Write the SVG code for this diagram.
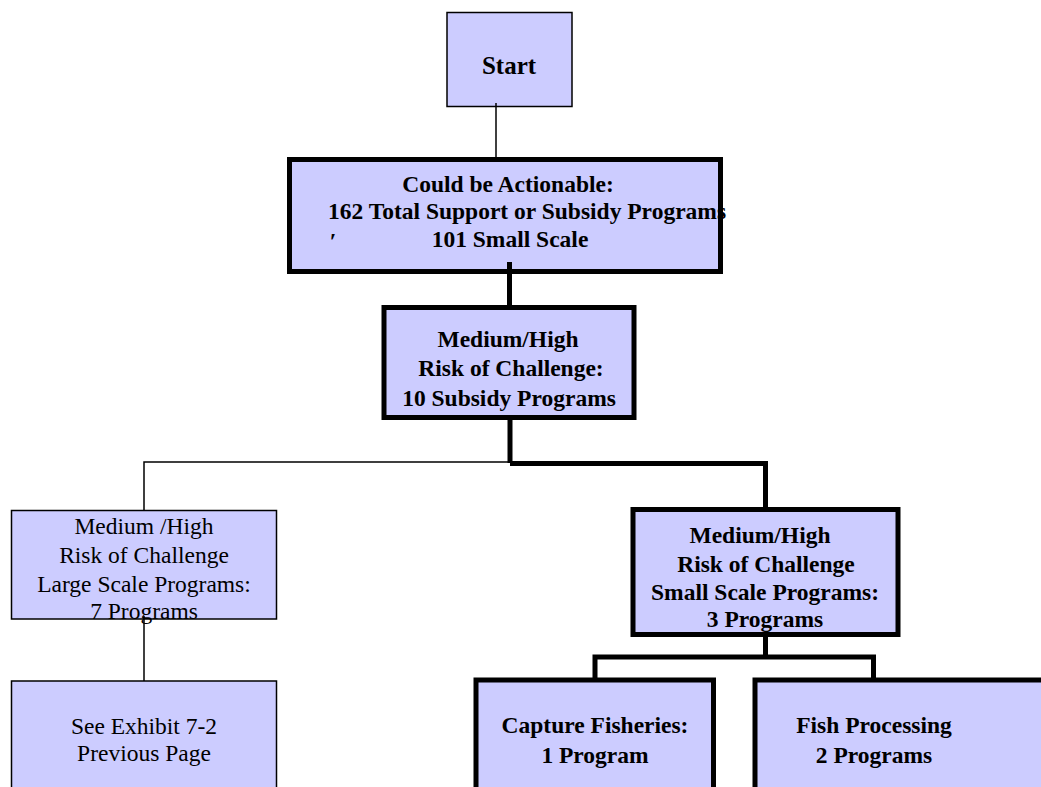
<svg xmlns="http://www.w3.org/2000/svg" width="1041" height="787" viewBox="0 0 1041 787">
<style>
.box{fill:#ccccff;stroke:#000}
.thin{stroke-width:1.5}
.thick{stroke-width:5}
text{font-family:"Liberation Serif","Times New Roman",serif;font-size:23.5px;fill:#000;text-anchor:middle}
.b{font-weight:bold}
.c{fill:none;stroke:#000}
</style>
<rect width="1041" height="787" fill="#fff"/>
<g id="node-start">
<rect class="box thin" x="447" y="12.5" width="125" height="94"/>
<text class="b" x="509" y="74" style="font-size:25px">Start</text>
</g>
<g id="node-actionable">
<rect class="box thick" x="289.5" y="159.5" width="431" height="112"/>
<text class="b" x="508" y="192">Could be Actionable:</text>
<text class="b" x="527" y="219">162 Total Support or Subsidy Programs</text>
<text class="b" x="333" y="249">′</text>
<text class="b" x="510" y="247">101 Small Scale</text>
</g>
<g id="node-medhigh">
<rect class="box thick" x="384" y="307.5" width="250" height="110"/>
<text class="b" x="508" y="347">Medium/High</text>
<text class="b" x="511" y="376">Risk of Challenge:</text>
<text class="b" x="509" y="406">10 Subsidy Programs</text>
</g>
<g id="node-large">
<rect class="box thin" x="11.5" y="510.5" width="265" height="108.5"/>
<text x="144" y="534">Medium /High</text>
<text x="144" y="563">Risk of Challenge</text>
<text x="144" y="591.5">Large Scale Programs:</text>
<text x="144" y="618.5">7 Programs</text>
</g>
<g id="node-small">
<rect class="box thick" x="633" y="509.5" width="265" height="125"/>
<text class="b" x="760" y="543">Medium/High</text>
<text class="b" x="766" y="571.5">Risk of Challenge</text>
<text class="b" x="765" y="600">Small Scale Programs:</text>
<text class="b" x="765" y="626.5">3 Programs</text>
</g>
<g id="node-exhibit">
<rect class="box thin" x="11.5" y="681" width="265" height="130"/>
<text x="144" y="734">See Exhibit 7-2</text>
<text x="144" y="760.5">Previous Page</text>
</g>
<g id="node-capture">
<rect class="box thick" x="476" y="680" width="237.5" height="130"/>
<text class="b" x="595" y="733">Capture Fisheries:</text>
<text class="b" x="595" y="762.5">1 Program</text>
</g>
<g id="node-processing">
<rect class="box thick" x="755" y="680" width="300" height="130"/>
<text class="b" x="874" y="733">Fish Processing</text>
<text class="b" x="874" y="762.5">2 Programs</text>
</g>
<g id="connectors">
<line class="c thin" x1="496" y1="103" x2="496" y2="158"/>
<line class="c thick" x1="509.5" y1="262" x2="509.5" y2="306"/>
<line class="c thick" x1="510" y1="418" x2="510" y2="463"/>
<polyline class="c thin" points="510,462 144,462 144,511"/>
<polyline class="c thick" points="510,463.5 765.5,463.5 765.5,508"/>
<line class="c thin" x1="144" y1="616" x2="144" y2="681"/>
<line class="c thick" x1="765.5" y1="634" x2="765.5" y2="657"/>
<polyline class="c thick" points="595,679 595,657 873.5,657 873.5,679"/>
</g>
</svg>
